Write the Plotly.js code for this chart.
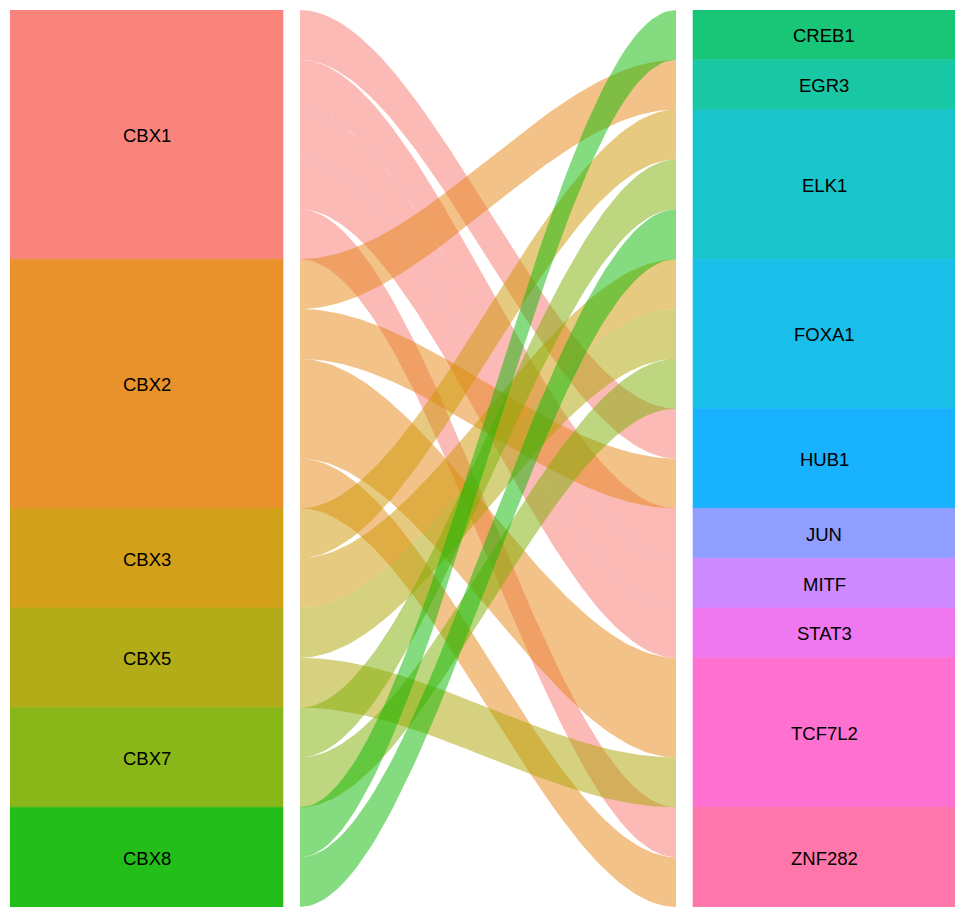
<!DOCTYPE html>
<html>
<head>
<meta charset="utf-8">
<script src="https://cdn.plot.ly/plotly-3.0.1.min.js"></script>
<style>html,body{margin:0;padding:0;background:#fff;}#chart{width:955px;height:907px;}</style>
</head>
<body>
<div id="chart"></div>
<script>
// ---- data ----
const sources = ['CBX1', 'CBX2', 'CBX3', 'CBX5', 'CBX7', 'CBX8'];
const targets = ['CREB1', 'EGR3', 'ELK1', 'FOXA1', 'HUB1', 'JUN', 'MITF', 'STAT3', 'TCF7L2', 'ZNF282'];
const linkSource = ['CBX1','CBX1','CBX1','CBX1','CBX1','CBX2','CBX2','CBX2','CBX2','CBX3','CBX3','CBX5','CBX5','CBX7','CBX7','CBX8','CBX8'];
const linkTarget = ['HUB1','JUN','MITF','STAT3','ZNF282','EGR3','HUB1','TCF7L2','ZNF282','ELK1','FOXA1','FOXA1','TCF7L2','ELK1','FOXA1','CREB1','ELK1'];
const linkValue  = [1,1,1,1,1,1,1,2,1,1,1,1,1,1,1,1,1];
const sourceColors = ['#F8766D', '#E68613', '#CD9600', '#ABA300', '#7CAE00', '#0CB702'];
const targetColors = ['#00BE67', '#00C19A', '#00BFC4', '#00B8E7', '#00A9FF', '#8494FF', '#C77CFF', '#ED68ED', '#FF61CC', '#FF68A1'];

// ---- layout constants (styles) ----
const LX = [0, 273], FX = [290, 666], RX = [683, 945];
const BOX_ALPHA = 0.9, FLOW_ALPHA = 0.5;

function rgba(hex, a) {
  const r = parseInt(hex.slice(1, 3), 16), g = parseInt(hex.slice(3, 5), 16), b = parseInt(hex.slice(5, 7), 16);
  return `rgba(${r},${g},${b},${a})`;
}
function onWhite(hex, a) {
  const c = [1, 3, 5].map(k => Math.round(parseInt(hex.slice(k, k + 2), 16) * a + 255 * (1 - a)));
  return `rgb(${c[0]},${c[1]},${c[2]})`;
}

// totals
const srcTot = sources.map(s => linkValue.reduce((a, v, i) => a + (linkSource[i] === s ? v : 0), 0));
const tgtTot = targets.map(t => linkValue.reduce((a, v, i) => a + (linkTarget[i] === t ? v : 0), 0));
const srcStart = [], tgtStart = [];
srcTot.reduce((a, v, i) => { srcStart[i] = a; return a + v; }, 0);
tgtTot.reduce((a, v, i) => { tgtStart[i] = a; return a + v; }, 0);
const total = srcTot.reduce((a, b) => a + b, 0);

// lode positions
const idx = linkValue.map((_, i) => i);
const leftPos = {}, rightPos = {};
sources.forEach((s, si) => {
  let y = srcStart[si];
  idx.filter(i => linkSource[i] === s)
     .sort((a, b) => targets.indexOf(linkTarget[a]) - targets.indexOf(linkTarget[b]))
     .forEach(i => { leftPos[i] = y; y += linkValue[i]; });
});
targets.forEach((t, ti) => {
  let y = tgtStart[ti];
  idx.filter(i => linkTarget[i] === t)
     .sort((a, b) => sources.indexOf(linkSource[a]) - sources.indexOf(linkSource[b]))
     .forEach(i => { rightPos[i] = y; y += linkValue[i]; });
});

const traces = [];
const N = 80;
function curve(y0, y1) {
  const xs = [], ys = [];
  for (let k = 0; k <= N; k++) {
    const t = k / N, s = t * t * (3 - 2 * t);
    xs.push(FX[0] + (FX[1] - FX[0]) * t);
    ys.push(y0 + (y1 - y0) * s);
  }
  return [xs, ys];
}
// flows
idx.forEach(i => {
  const y0 = leftPos[i], y1 = rightPos[i], v = linkValue[i];
  const [tx, ty] = curve(y0, y1);
  const [bx, by] = curve(y0 + v, y1 + v);
  const col = sourceColors[sources.indexOf(linkSource[i])];
  traces.push({
    type: 'scatter', mode: 'lines', x: tx.concat(bx.slice().reverse()), y: ty.concat(by.slice().reverse()),
    fill: 'toself', fillcolor: rgba(col, FLOW_ALPHA), line: {width: 0}, hoverinfo: 'skip'
  });
});
// boxes
function box(x, y0, y1, col) {
  traces.push({
    type: 'scatter', mode: 'lines', x: [x[0], x[1], x[1], x[0], x[0]], y: [y0, y0, y1, y1, y0],
    fill: 'toself', fillcolor: onWhite(col, BOX_ALPHA), line: {width: 0.6, color: onWhite(col, BOX_ALPHA)}, hoverinfo: 'skip'
  });
}
sources.forEach((s, i) => box(LX, srcStart[i], srcStart[i] + srcTot[i], sourceColors[i]));
targets.forEach((t, i) => box(RX, tgtStart[i], tgtStart[i] + tgtTot[i], targetColors[i]));
// labels
const annotations = [];
sources.forEach((s, i) => annotations.push({
  x: (LX[0] + LX[1]) / 2, y: srcStart[i] + srcTot[i] / 2, text: s
}));
targets.forEach((t, i) => annotations.push({
  x: (RX[0] + RX[1]) / 2, y: tgtStart[i] + tgtTot[i] / 2, text: t
}));
annotations.forEach(a => Object.assign(a, {
  xref: 'x', yref: 'y', showarrow: false, xanchor: 'center', yanchor: 'middle', yshift: -1,
  font: {family: 'Liberation Sans, Arial, sans-serif', size: 18.5, color: '#000'}
}));

const layout = {
  width: 955, height: 907,
  margin: {l: 10, r: 0, t: 10, b: 0, pad: 0},
  paper_bgcolor: '#fff', plot_bgcolor: '#fff',
  showlegend: false, hovermode: false,
  xaxis: {range: [LX[0], RX[1]], visible: false, fixedrange: true},
  yaxis: {range: [total, 0], visible: false, fixedrange: true},
  annotations: annotations
};
Plotly.newPlot('chart', traces, layout, {staticPlot: true, displayModeBar: false});
</script>
</body>
</html>
